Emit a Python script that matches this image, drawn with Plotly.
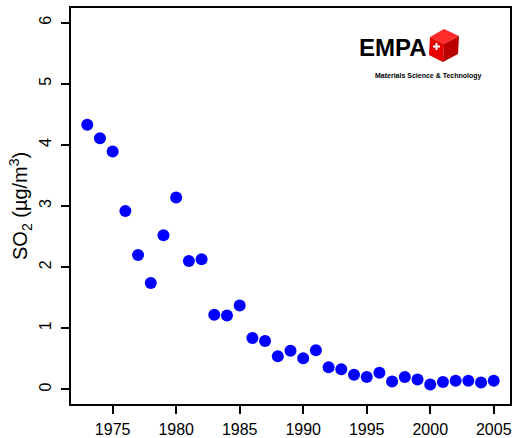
import plotly.graph_objects as go

years = list(range(1973, 2006))
so2 = [4.33, 4.11, 3.89, 2.92, 2.20, 1.74, 2.52, 3.14, 2.10, 2.13,
       1.22, 1.21, 1.37, 0.84, 0.79, 0.54, 0.63, 0.51, 0.64, 0.36,
       0.33, 0.24, 0.20, 0.27, 0.13, 0.20, 0.16, 0.08, 0.12, 0.14,
       0.14, 0.11, 0.14]
x_ticks = [1975, 1980, 1985, 1990, 1995, 2000, 2005]
y_ticks = [0, 1, 2, 3, 4, 5, 6]

W, H = 515, 438
L, R, T, B = 71, 5, 8, 34
PW, PH = W - L - R, H - T - B

def px(x):
    return (x - L) / PW

def py(y):
    return (H - B - y) / PH

fig = go.Figure()
fig.add_trace(go.Scatter(x=years, y=so2, mode="markers",
                         marker=dict(color="#0000ff", size=12, line=dict(width=0)),
                         showlegend=False))

axis_common = dict(showline=True, linecolor="black", linewidth=2, mirror=True,
                   ticks="outside", ticklen=8, tickwidth=2, tickcolor="black",
                   showgrid=False, zeroline=False, automargin=False,
                   tickfont=dict(family="Liberation Sans, Arial", size=16, color="black"))

fig.update_layout(
    width=W, height=H, autosize=False,
    margin=dict(l=L, r=R, t=T, b=B),
    paper_bgcolor="white", plot_bgcolor="white",
    xaxis=dict(range=[1971.72, 2006.28], tickvals=x_ticks, ticklabelstandoff=2, **axis_common),
    yaxis=dict(range=[-0.24, 6.24], tickvals=y_ticks, tickangle=-90, ticklabelstandoff=4, **axis_common),
)

fig.add_annotation(x=px(20), y=0.5, xref="paper", yref="paper",
                   text="SO<sub>2</sub> (µg/m<sup>3</sup>)", textangle=-90,
                   showarrow=False, xanchor="center", yanchor="middle",
                   font=dict(family="Liberation Sans, Arial", size=20, color="black"))

# Logo
fig.add_annotation(x=px(393), y=py(48), xref="paper", yref="paper",
                   text="<b>EMPA</b>", showarrow=False, xanchor="center", yanchor="middle",
                   font=dict(family="Liberation Sans, Arial", size=24, color="black"))
fig.add_annotation(x=px(428), y=py(76), xref="paper", yref="paper",
                   text="<b>Materials Science & Technology</b>", showarrow=False,
                   xanchor="center", yanchor="middle",
                   font=dict(family="Liberation Sans, Arial", size=7, color="black"))

def path(pts):
    s = "M " + " L ".join(f"{px(a):.5f},{py(b):.5f}" for a, b in pts) + " Z"
    return s

top = (444, 29); ur = (459, 36); lr = (458, 54); bot = (443, 62); ll = (429, 55); ul = (430, 37); c = (444, 44)
faces = [([top, ur, c, ul], "#ff2a2a"), ([ul, c, bot, ll], "#e60000"), ([c, ur, lr, bot], "#b80000")]
for pts, col in faces:
    fig.add_shape(type="path", path=path(pts), xref="paper", yref="paper",
                  fillcolor=col, line=dict(width=0), layer="above")
# white cross
fig.add_shape(type="rect", xref="paper", yref="paper", x0=px(433), x1=px(440), y0=py(47.5), y1=py(45.5),
              fillcolor="white", line=dict(width=0), layer="above")
fig.add_shape(type="rect", xref="paper", yref="paper", x0=px(435.5), x1=px(437.5), y0=py(50), y1=py(43),
              fillcolor="white", line=dict(width=0), layer="above")

fig.write_html("out.html", config={"displayModeBar": False},
               post_script="document.body.style.margin='0';document.body.style.overflow='hidden';")
